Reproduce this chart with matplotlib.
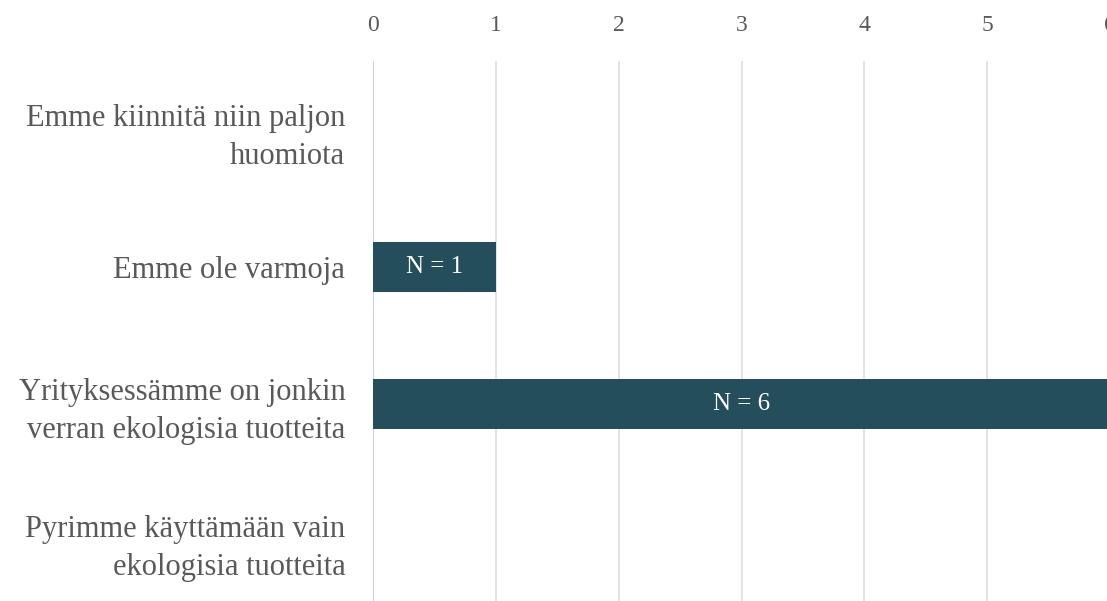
import matplotlib.pyplot as plt

plt.rcParams["font.family"] = ["Liberation Serif", "DejaVu Serif"]

categories = [
    "Emme kiinnitä niin paljon\nhuomiota",
    "Emme ole varmoja",
    "Yrityksessämme on jonkin\nverran ekologisia tuotteita",
    "Pyrimme käyttämään vain\nekologisia tuotteita",
]
counts = [0, 1, 6, 0]
ticks = [0, 1, 2, 3, 4, 5, 6]

bar_color = "#244e5b"
text_color = "#595959"

fig = plt.figure(figsize=(11.07, 6.01), dpi=100)
ax = fig.add_axes([0.337, -0.014, 0.6657, 0.9117])

ypos = list(range(len(categories)))
bars = ax.barh(ypos, counts, height=0.365, color=bar_color, zorder=3)
for b, c in zip(bars, counts):
    if c > 0:
        ax.text(c / 2, b.get_y() + b.get_height() / 2, "N = %d" % c,
                ha="center", va="center", color="white", fontsize=18, zorder=4)

ax.set_xlim(0, 6)
ax.set_ylim(len(categories) - 0.5, -0.5)
ax.set_yticks(ypos)
ax.set_yticklabels(categories, fontsize=22, color=text_color, linespacing=1.4)
ax.set_xticks(ticks)
ax.set_xticklabels([str(t) for t in ticks], fontsize=17, color=text_color)
ax.xaxis.tick_top()
ax.tick_params(axis="x", length=0, pad=18)
ax.tick_params(axis="y", length=0, pad=20)

for t in ticks[1:]:
    ax.axvline(t, color="#dedede", lw=1.2, zorder=1)
ax.axvline(0, color="#c9d3e8", lw=1.5, zorder=2)

for s in ax.spines.values():
    s.set_visible(False)

fig.savefig("out.png", dpi=100)
